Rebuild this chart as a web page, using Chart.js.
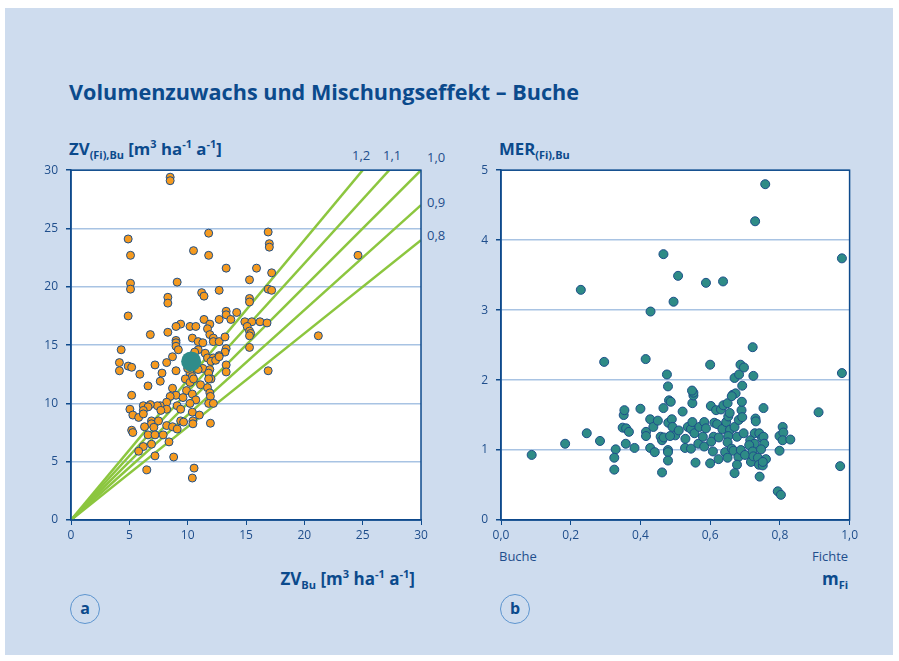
<!DOCTYPE html>
<html>
<head>
<meta charset="utf-8">
<script src="https://cdn.jsdelivr.net/npm/chart.js@4.4.0/dist/chart.umd.min.js"></script>
<style>
  body { margin: 0; background: #fff; font-family: "Open Sans", sans-serif; color: #0b4a8c; }
  #panel { position: absolute; left: 5px; top: 8px; width: 888px; height: 647px; background: #cedcee; }
  .t { position: absolute; white-space: nowrap; line-height: 1; }
  .b { font-weight: 700; }
  .lab { font-size: 13px; color: #1f4e8c; }
  sub, sup { font-size: 65%; line-height: 0; }
  .badge { position: absolute; width: 28px; height: 28px; border: 1.5px solid #5d95cf; border-radius: 50%;
           text-align: center; line-height: 27px; font-weight: 700; font-size: 16px; }
  canvas { position: absolute; }
</style>
</head>
<body>
<div id="panel"></div>

<div class="t b" style="left:69px;top:81px;font-size:21.6px;">Volumenzuwachs und Mischungseffekt – Buche</div>

<!-- panel a texts -->
<div class="t b" style="left:69px;top:141px;font-size:16.8px;">ZV<sub>(Fi),Bu</sub> [m<sup>3</sup> ha<sup>-1</sup> a<sup>-1</sup>]</div>
<div class="t lab" style="left:352px;top:149px;">1,2</div>
<div class="t lab" style="left:383px;top:149px;">1,1</div>
<div class="t lab" style="left:427px;top:151px;">1,0</div>
<div class="t lab" style="left:427px;top:196px;">0,9</div>
<div class="t lab" style="left:427px;top:229px;">0,8</div>
<div class="t b" style="left:86px;top:187px;font-size:16px;">Mischbestand</div>
<div class="t b" style="left:319px;top:187px;font-size:16px;">Buche</div>
<div class="t b" style="left:295px;top:485px;font-size:16px;">Reinbestand</div>
<div class="t b" style="right:484px;top:570px;font-size:17px;">ZV<sub>Bu</sub> [m<sup>3</sup> ha<sup>-1</sup> a<sup>-1</sup>]</div>
<div class="badge" style="left:70px;top:594px;">a</div>

<!-- panel b texts -->
<div class="t b" style="left:499px;top:141px;font-size:16.8px;">MER<sub>(Fi),Bu</sub></div>
<div class="t b" style="left:518px;top:187px;font-size:16px;">Buche</div>
<div class="t lab" style="left:499px;top:550px;">Buche</div>
<div class="t lab" style="left:812px;top:550px;">Fichte</div>
<div class="t b" style="left:822px;top:570px;font-size:17px;">m<sub>Fi</sub></div>
<div class="badge" style="left:500px;top:594px;">b</div>

<canvas id="ca" width="410" height="396" style="left:21px;top:155px;"></canvas>
<canvas id="cb" width="410" height="396" style="left:451px;top:155px;"></canvas>

<script>
// panel a: volume increment of beech, pure stand (x) vs mixed stand (y)
var zvBu = [8.5, 8.5, 4.9, 5.1, 11.8, 10.5, 11.8, 16.9, 17.0, 17.0, 13.3, 15.9, 17.2, 15.3, 24.6,
  5.1, 5.1, 9.1, 12.7, 16.9, 17.2, 11.2, 11.4, 8.3, 15.3, 8.3, 15.3, 4.9, 13.3, 13.3, 14.2, 13.7,
  12.7, 11.4, 14.9, 15.5, 16.2, 16.8, 9.4, 9.0, 10.2, 10.7, 11.9, 11.7, 15.1, 15.3, 15.4, 15.3,
  11.9, 6.8, 8.3, 10.4, 12.2, 12.2, 12.7, 13.2, 10.9, 11.3, 9.0, 9.0, 9.0, 9.2, 15.3, 4.3, 10.9,
  11.5, 11.7, 12.2, 13.3, 13.2, 12.7, 8.7, 4.15, 4.9, 5.2, 4.15, 7.2, 8.2, 7.8, 9.0, 11.3, 11.9,
  12.0, 11.8, 12.0, 11.8, 12.4, 12.7, 13.3, 13.3, 5.9, 10.2, 10.4, 9.8, 10.2, 10.5, 7.65, 6.6,
  11.1, 11.7, 8.7, 9.9, 11.9, 11.95, 10.4, 9.0, 8.5, 9.6, 5.2, 8.2, 7.65, 7.4, 6.8, 6.2, 6.6, 6.2,
  10.7, 10.2, 11.8, 12.2, 9.1, 9.4, 8.2, 7.7, 5.05, 5.3, 5.8, 6.2, 10.4, 11.0, 10.45, 10.45, 6.9,
  6.9, 7.5, 9.4, 9.65, 11.95, 6.3, 7.1, 8.2, 8.7, 9.1, 5.2, 5.3, 6.6, 7.2, 7.9, 6.2, 6.9, 8.4, 5.8,
  7.2, 8.8, 6.5, 10.55, 10.4, 21.2, 16.9, 10.6, 10.0, 10.9];
var zvMix = [29.4, 29.1, 24.1, 22.7, 24.6, 23.1, 22.7, 24.7, 23.7, 23.4, 21.6, 21.6, 21.2, 20.6, 22.7,
  20.3, 19.8, 20.4, 19.7, 19.8, 19.7, 19.5, 19.2, 19.1, 19.0, 18.6, 18.7, 17.5, 17.9, 17.6, 17.8, 17.2,
  17.2, 17.2, 17.0, 17.0, 17.0, 16.9, 16.8, 16.6, 16.6, 16.6, 16.8, 16.4, 16.6, 16.2, 16.0, 15.8,
  15.9, 15.9, 16.1, 15.6, 15.6, 15.3, 15.3, 15.7, 15.3, 15.2, 15.4, 15.2, 14.9, 14.6, 14.8, 14.6, 14.6,
  14.3, 13.9, 13.9, 14.7, 14.4, 14.1, 14.0, 13.5, 13.2, 13.1, 12.8, 13.3, 13.5, 12.6, 12.8, 13.0, 12.9,
  13.6, 12.6, 12.1, 12.1, 13.7, 14.0, 13.3, 12.7, 12.5, 12.6, 12.3, 12.1, 11.8, 12.1, 11.9, 11.5,
  11.6, 11.35, 11.3, 11.1, 10.9, 10.6, 10.8, 10.7, 10.6, 10.5, 10.7, 10.1, 9.8, 9.8, 9.9, 9.8, 9.7, 9.4,
  10.3, 10.0, 10.0, 10.0, 9.8, 9.5, 9.5, 9.4, 9.5, 9.0, 8.8, 9.1, 9.25, 9.0, 8.5, 8.25, 8.5,
  8.25, 8.5, 8.5, 8.4, 8.3, 8.0, 7.95, 8.1, 8.0, 7.8, 7.7, 7.5, 7.3, 7.3, 7.3, 6.3, 6.5, 6.7, 5.9,
  5.5, 5.4, 4.3, 4.45, 3.6, 15.8, 12.8, 14.4, 13.0, 12.9];
var meanBu = [10.3];
var meanMix = [13.6];
var ratios = [1.2, 1.1, 1.0, 0.9, 0.8];
var ticksA = [0, 5, 10, 15, 20, 25, 30];

// panel b: mixing effect ratio vs spruce share
var mFi = [0.758, 0.729, 0.466, 0.978, 0.508, 0.229, 0.588, 0.637, 0.495, 0.429, 0.088, 0.184, 0.246,
  0.284, 0.296, 0.415, 0.329, 0.325, 0.325, 0.349, 0.359, 0.352, 0.354, 0.367, 0.358, 0.383, 0.400,
  0.416, 0.416, 0.428, 0.437, 0.450, 0.428, 0.441, 0.458, 0.462, 0.467, 0.462, 0.466, 0.476, 0.479,
  0.482, 0.487, 0.480, 0.490, 0.492, 0.500, 0.485, 0.479, 0.479, 0.479, 0.510, 0.521, 0.529, 0.528,
  0.545, 0.536, 0.545, 0.549, 0.555, 0.549, 0.552, 0.552, 0.548, 0.558, 0.566, 0.569, 0.579, 0.583,
  0.583, 0.588, 0.600, 0.600, 0.608, 0.602, 0.610, 0.603, 0.612, 0.620, 0.625, 0.624, 0.617, 0.631,
  0.638, 0.650, 0.635, 0.646, 0.652, 0.656, 0.657, 0.652, 0.650, 0.643, 0.650, 0.662, 0.667, 0.665,
  0.673, 0.662, 0.670, 0.683, 0.687, 0.697, 0.722, 0.724, 0.670, 0.677, 0.682, 0.696, 0.681, 0.677,
  0.670, 0.690, 0.692, 0.691, 0.692, 0.688, 0.700, 0.730, 0.731, 0.728, 0.715, 0.727, 0.712, 0.722,
  0.717, 0.724, 0.741, 0.749, 0.753, 0.755, 0.753, 0.746, 0.737, 0.740, 0.751, 0.742, 0.760, 0.751,
  0.799, 0.808, 0.810, 0.808, 0.830, 0.799, 0.794, 0.803, 0.911, 0.978, 0.973];
var mer = [4.80, 4.27, 3.80, 3.74, 3.49, 3.29, 3.39, 3.41, 3.12, 2.98, 0.93, 1.09, 1.24,
  1.13, 2.26, 2.30, 1.01, 0.89, 0.72, 1.32, 1.31, 1.50, 1.57, 1.26, 1.09, 1.03, 1.59,
  1.26, 1.20, 1.44, 1.33, 1.42, 1.03, 0.97, 1.19, 1.14, 1.18, 0.68, 1.60, 2.08, 1.91,
  1.71, 1.69, 1.39, 1.44, 1.33, 1.21, 1.20, 1.00, 0.97, 0.85, 1.28, 1.55, 1.16, 1.03,
  1.02, 1.33, 1.30, 1.40, 1.24, 1.67, 1.78, 1.82, 1.85, 0.82, 1.09, 1.33, 1.19, 1.40,
  1.05, 1.31, 2.22, 0.81, 0.98, 1.63, 1.19, 1.12, 1.39, 1.37, 1.18, 0.87, 1.57, 1.58,
  1.64, 1.67, 1.30, 1.40, 1.48, 1.53, 1.29, 1.20, 1.11, 0.97, 0.89, 1.02, 0.99, 1.79,
  1.81, 1.77, 2.03, 2.08, 2.22, 2.18, 2.47, 2.06, 1.33, 1.19, 1.43, 1.24, 0.90, 0.79,
  0.67, 1.57, 1.47, 1.69, 1.92, 1.00, 0.93, 1.45, 1.41, 1.24, 1.14, 1.09, 1.07, 0.98,
  0.83, 0.91, 1.24, 1.17, 1.19, 1.09, 1.60, 1.01, 0.89, 0.79, 0.78, 0.62, 0.87, 0.83,
  1.20, 1.33, 1.25, 1.14, 1.15, 0.99, 0.41, 0.36, 1.54, 2.10, 0.77];
var ticksB = [0, 0.2, 0.4, 0.6, 0.8, 1.0];
var ticksMer = [0, 1, 2, 3, 4, 5];

var dark = '#0e4a8c';
var grid = '#a8c3e3';
var tickFont = { family: 'Open Sans', size: 12 };

function pairs(xs, ys) {
  var out = [];
  for (var i = 0; i < xs.length; i++) out.push({ x: xs[i], y: ys[i] });
  return out;
}

// white plot area with dark frame
var framePlugin = {
  id: 'frame',
  beforeDraw: function(chart) {
    var a = chart.chartArea, ctx = chart.ctx;
    ctx.save();
    ctx.fillStyle = '#fff';
    ctx.fillRect(a.left, a.top, a.right - a.left, a.bottom - a.top);
    ctx.restore();
  },
  afterDraw: function(chart) {
    var a = chart.chartArea, ctx = chart.ctx;
    ctx.save();
    ctx.strokeStyle = dark;
    ctx.lineWidth = 1.5;
    ctx.strokeRect(a.left, a.top, a.right - a.left, a.bottom - a.top);
    ctx.restore();
  }
};

function axes(xmin, xmax, xticks, ymin, ymax, yticks, fmt) {
  return {
    x: {
      type: 'linear', min: xmin, max: xmax,
      afterFit: function(s) { s.height = 31; },
      afterBuildTicks: function(s) { s.ticks = xticks.map(function(v) { return { value: v }; }); },
      grid: { drawOnChartArea: false, tickLength: 5, tickColor: dark },
      border: { color: dark, width: 1.5 },
      ticks: { color: '#1f4e8c', font: tickFont, padding: 3, maxRotation: 0,
               callback: function(v) { return fmt(v); } }
    },
    y: {
      type: 'linear', min: ymin, max: ymax,
      afterFit: function(s) { s.width = 50; },
      afterBuildTicks: function(s) { s.ticks = yticks.map(function(v) { return { value: v }; }); },
      grid: { color: grid, lineWidth: 1.5, tickLength: 5, tickColor: dark },
      border: { color: dark, width: 1.5 },
      ticks: { color: '#1f4e8c', font: tickFont, padding: 8,
               callback: function(v) { return String(v); } }
    }
  };
}

// reference lines y = r * x, clipped to the 30 x 30 frame
var lineSets = ratios.map(function(r) {
  var xe = Math.min(30, 30 / r);
  return { type: 'line', data: [{ x: 0, y: 0 }, { x: xe, y: xe * r }], borderColor: '#8cc63f',
           borderWidth: 2.5, pointRadius: 0, fill: false };
});

new Chart(document.getElementById('ca'), {
  type: 'scatter',
  data: {
    datasets: [
      { data: pairs(meanBu, meanMix), pointRadius: 10, backgroundColor: '#2f8c8a', borderWidth: 0 },
      { data: pairs(zvBu, zvMix), pointRadius: 4, backgroundColor: '#f59a1f', borderColor: '#1d4f8a', borderWidth: 1 }
    ].concat(lineSets)
  },
  options: {
    responsive: false, animation: false,
    layout: { padding: { top: 10, right: 10, left: 0, bottom: 0 } },
    plugins: { legend: { display: false }, tooltip: { enabled: false } },
    scales: axes(0, 30, ticksA, 0, 30, ticksA, function(v) { return String(v); })
  },
  plugins: [framePlugin]
});

new Chart(document.getElementById('cb'), {
  type: 'scatter',
  data: {
    datasets: [
      { data: pairs(mFi, mer), pointRadius: 4.5, backgroundColor: '#2e8b86', borderColor: '#1d4f8a', borderWidth: 1 }
    ]
  },
  options: {
    responsive: false, animation: false,
    layout: { padding: { top: 10, right: 10, left: 0, bottom: 0 } },
    plugins: { legend: { display: false }, tooltip: { enabled: false } },
    scales: axes(0, 1, ticksB, 0, 5, ticksMer, function(v) { return v.toFixed(1).replace('.', ','); })
  },
  plugins: [framePlugin]
});
</script>
</body>
</html>
